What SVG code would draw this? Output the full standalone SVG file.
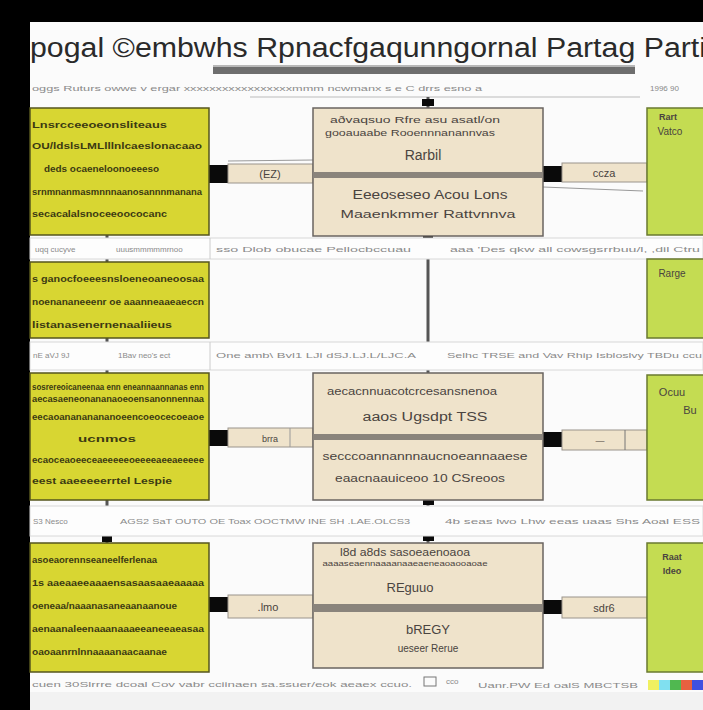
<svg xmlns="http://www.w3.org/2000/svg" width="703" height="710" viewBox="0 0 703 710">
<style>
.yel{fill:#d8d632;stroke:#55551e;stroke-width:1.5}
.grn{fill:#c4dc52;stroke:#6a7a30;stroke-width:1.5}
.bei{fill:#efe3cb;stroke:#6a6460;stroke-width:1.5}
.div{fill:#8a847c}
.lab{fill:#efe3cb;stroke:#9a948c;stroke-width:1}
.blk{fill:#0a0a0a}
.vline{stroke:#555;stroke-width:3}
.yt{font-family:"Liberation Sans",Arial,sans-serif;font-size:9px;font-weight:bold;fill:#3c3a12}
.bt{font-family:"Liberation Sans",Arial,sans-serif;fill:#4a4440;text-anchor:middle}
.st{font-family:"Liberation Sans",Arial,sans-serif;font-size:8px;fill:#8a8a8a}
.strip{fill:#fdfdfd;stroke:#d8d8d8;stroke-width:1}
</style>
<rect x="0" y="0" width="703" height="710" fill="#000"/>
<rect x="30" y="22" width="673" height="688" fill="#fbfbfb"/>
<rect x="30" y="692" width="673" height="18" fill="#f2f2f2"/>
<text x="30" y="57" font-family="Liberation Sans,Arial,sans-serif" font-size="27" fill="#2a2a2a" textLength="676" lengthAdjust="spacingAndGlyphs">pogal ©embwhs Rpnacfgaqunngornal Partag Parti</text>
<rect x="213" y="67" width="422" height="7" fill="#6e6e6e"/>
<rect x="213" y="65" width="422" height="2" fill="#b8b8b8"/>
<text x="32" y="91" class="st" textLength="450" lengthAdjust="spacingAndGlyphs">oggs  Ruturs  owwe v ergar xxxxxxxxxxxxxxxxxmmm ncwmanx s e C drrs  esno   a</text>
<text x="650" y="91" class="st">1996  90</text>
<line x1="250" y1="97" x2="640" y2="97" stroke="#bbb" stroke-width="1"/>

<g id="connectors">
  <line x1="428" y1="97" x2="428" y2="108" class="vline"/>
  <rect x="422" y="99" width="12" height="7" class="blk"/>
  <line x1="428" y1="236" x2="428" y2="373" class="vline"/>
  <rect x="423" y="236" width="10" height="7" class="blk"/>
  <rect x="424" y="356" width="10" height="14" class="blk"/>
  <line x1="428" y1="500" x2="428" y2="543" class="vline"/>
  <rect x="423" y="498" width="11" height="7" class="blk"/>
  <rect x="423" y="533" width="11" height="8" class="blk"/>
  <line x1="107" y1="235" x2="107" y2="262" class="vline"/>
  <line x1="107" y1="338" x2="107" y2="373" class="vline"/>
  <rect x="102" y="360" width="10" height="10" class="blk"/>
  <line x1="107" y1="500" x2="107" y2="543" class="vline"/>
  <rect x="102" y="532" width="10" height="10" class="blk"/>
  <!-- row 1 -->
  <rect x="209" y="165" width="19" height="18" class="blk"/>
  <rect x="228" y="164" width="85" height="19" class="lab"/>
  <line x1="228" y1="161" x2="313" y2="160" stroke="#999"/>
  <text x="270" y="178" class="bt" font-size="11">(EZ)</text>
  <rect x="543" y="166" width="19" height="16" class="blk"/>
  <rect x="562" y="163" width="85" height="19" class="lab"/>
  <line x1="543" y1="187" x2="643" y2="191" stroke="#999"/>
  <text x="604" y="177" class="bt" font-size="11">ccza</text>
  <!-- row 3 -->
  <rect x="209" y="430" width="19" height="16" class="blk"/>
  <rect x="228" y="428" width="85" height="19" class="lab"/>
  <line x1="290" y1="428" x2="290" y2="447" stroke="#999"/>
  <text x="270" y="442" class="bt" font-size="9">brra</text>
  <rect x="543" y="432" width="19" height="15" class="blk"/>
  <rect x="562" y="430" width="85" height="20" class="lab"/>
  <line x1="625" y1="430" x2="625" y2="450" stroke="#777"/>
  <text x="600" y="444" class="bt" font-size="9">—</text>
  <!-- row 4 -->
  <rect x="209" y="597" width="19" height="15" class="blk"/>
  <rect x="228" y="595" width="85" height="23" class="lab"/>
  <text x="268" y="611" class="bt" font-size="11">.lmo</text>
  <rect x="543" y="600" width="19" height="14" class="blk"/>
  <rect x="562" y="597" width="85" height="21" class="lab"/>
  <text x="604" y="612" class="bt" font-size="11">sdr6</text>
</g>

<g id="strips">
  <rect x="30" y="238" width="673" height="21" class="strip"/>
  <text x="35" y="252" class="st">uqq  cucyve</text>
  <line x1="210" y1="238" x2="210" y2="259" stroke="#ccc"/>
  <text x="116" y="252" class="st">uuusmmmmmrnoo</text>
  <text x="216" y="252" class="st" textLength="195" lengthAdjust="spacingAndGlyphs">sso Dlob obucae Pellocbccuau</text>
  <text x="450" y="252" class="st" textLength="250" lengthAdjust="spacingAndGlyphs">aaa  'Des  qkw  all  cowsgsrrbuu/l,  ,dil  Ctru</text>
  <rect x="30" y="342" width="673" height="28" class="strip"/>
  <text x="33" y="358" class="st">nE  aVJ  9J</text>
  <line x1="210" y1="342" x2="210" y2="370" stroke="#ccc"/>
  <text x="118" y="358" class="st">1Bav neo's ect</text>
  <text x="216" y="358" class="st" textLength="200" lengthAdjust="spacingAndGlyphs">One  amb\ Bvl1 LJl  dSJ.LJ.L/LJC.A</text>
  <text x="447" y="358" class="st" textLength="255" lengthAdjust="spacingAndGlyphs">Selhc TRSE and Vav Rhip Isbloslvy  TBDu ccu</text>
  <rect x="30" y="506" width="673" height="30" class="strip"/>
  <text x="33" y="524" class="st">S3  Nesco</text>
  <text x="120" y="524" class="st" textLength="290" lengthAdjust="spacingAndGlyphs">AGS2 SaT OUTO OE Toax OOCTMW INE SH .LAE.OLCS3</text>
  <text x="445" y="524" class="st" textLength="255" lengthAdjust="spacingAndGlyphs">4b  seas  lwo  Lhw  eeas  uaas  Shs  Aoal  ESS</text>
  <text x="32" y="687" class="st" textLength="380" lengthAdjust="spacingAndGlyphs">cuen  30Slrrre  dcoal  Cov  vabr  cciinaen  sa.ssuer/eok  aeaex  ccuo.</text>
  <rect x="424" y="677" width="12" height="9" fill="none" stroke="#777"/>
  <text x="446" y="684" class="st">cco</text>
  <text x="478" y="688" class="st" textLength="160" lengthAdjust="spacingAndGlyphs">Uanr.PW  Ed  oalS  MBCTSB</text>
  <rect x="648" y="680" width="11" height="10" fill="#f0f060"/>
  <rect x="659" y="680" width="11" height="10" fill="#80e0f0"/>
  <rect x="670" y="680" width="11" height="10" fill="#50b850"/>
  <rect x="681" y="680" width="11" height="10" fill="#e86040"/>
  <rect x="692" y="680" width="11" height="10" fill="#4050e0"/>
</g>

<g id="node-y1">
  <rect x="30" y="108" width="179" height="127" class="yel"/>
  <text x="32" y="128" class="yt" textLength="135" lengthAdjust="spacingAndGlyphs">Lnsrcceeoeonsliteaus</text>
  <text x="32" y="149" class="yt" textLength="170" lengthAdjust="spacingAndGlyphs">OU/ldslsLMLlllnlcaeslonacaao</text>
  <text x="44" y="172" class="yt" textLength="115" lengthAdjust="spacingAndGlyphs">deds ocaeneloonoeeeso</text>
  <text x="32" y="195" class="yt" textLength="170" lengthAdjust="spacingAndGlyphs">srnmnanmasmnnnaanosannnmanana</text>
  <text x="32" y="217" class="yt" textLength="135" lengthAdjust="spacingAndGlyphs">secacalalsnoceeoococanc</text>
</g>
<g id="node-y2">
  <rect x="30" y="262" width="179" height="76" class="yel"/>
  <text x="32" y="282" class="yt" textLength="172" lengthAdjust="spacingAndGlyphs">s ganocfoeeesnsloeneoaneoosaa</text>
  <text x="32" y="305" class="yt" textLength="172" lengthAdjust="spacingAndGlyphs">noenananeeenr oe aaanneaaeaeccn</text>
  <text x="32" y="328" class="yt" textLength="140" lengthAdjust="spacingAndGlyphs">listanasenernenaaliieus</text>
</g>
<g id="node-y3">
  <rect x="30" y="373" width="179" height="127" class="yel"/>
  <text x="32" y="390" class="yt" font-size="6" textLength="172" lengthAdjust="spacingAndGlyphs">sosrereoicaneenaa enn eneannaannanas enn</text>
  <text x="32" y="402" class="yt" textLength="172" lengthAdjust="spacingAndGlyphs">aecasaeneonananaoeoensanonnennaa</text>
  <text x="32" y="420" class="yt" textLength="172" lengthAdjust="spacingAndGlyphs">eecaoanananananoeencoeocecoeaoe</text>
  <text x="78" y="442" class="yt" textLength="58" lengthAdjust="spacingAndGlyphs">ucnmos</text>
  <text x="32" y="463" class="yt" textLength="172" lengthAdjust="spacingAndGlyphs">ecaoceaoeeceaeeeeeoeeeeaeeaeeeee</text>
  <text x="32" y="484" class="yt" textLength="140" lengthAdjust="spacingAndGlyphs">eest aaeeeeerrtel Lespie</text>
</g>
<g id="node-y4">
  <rect x="30" y="543" width="179" height="129" class="yel"/>
  <text x="32" y="563" class="yt" textLength="125" lengthAdjust="spacingAndGlyphs">asoeaorennseaneelferlenaa</text>
  <text x="32" y="586" class="yt" textLength="172" lengthAdjust="spacingAndGlyphs">1s aaeaaeeaaaensasaasaaeaaaaa</text>
  <text x="32" y="609" class="yt" textLength="145" lengthAdjust="spacingAndGlyphs">oeneaa/naaanasaneaanaanoue</text>
  <text x="32" y="632" class="yt" textLength="172" lengthAdjust="spacingAndGlyphs">aenaanaleenaaanaaaeeaneeaeasaa</text>
  <text x="32" y="655" class="yt" textLength="135" lengthAdjust="spacingAndGlyphs">oaoaanrnlnnaaaanaacaanae</text>
</g>

<g id="node-c1">
  <rect x="313" y="108" width="230" height="128" class="bei"/>
  <rect x="313" y="172" width="230" height="6" class="div"/>
  <text x="415" y="123" class="bt" font-size="9" textLength="170" lengthAdjust="spacingAndGlyphs">aðvaqsuo  Rfre asu asatl/on</text>
  <text x="410" y="136" class="bt" font-size="9" textLength="170" lengthAdjust="spacingAndGlyphs">gooauaabe  Rooennnanannvas</text>
  <text x="423" y="160" class="bt" font-size="14">Rarbil</text>
  <text x="430" y="199" class="bt" font-size="12" textLength="155" lengthAdjust="spacingAndGlyphs">Eeeoseseo Acou Lons</text>
  <text x="428" y="218" class="bt" font-size="11" textLength="175" lengthAdjust="spacingAndGlyphs">Maaenkmmer Rattvnnva</text>
</g>
<g id="node-c3">
  <rect x="313" y="373" width="230" height="127" class="bei"/>
  <rect x="313" y="434" width="230" height="6" class="div"/>
  <text x="412" y="395" class="bt" font-size="10" textLength="170" lengthAdjust="spacingAndGlyphs">aecacnnuacotcrcesansnenoa</text>
  <text x="425" y="421" class="bt" font-size="12" textLength="125" lengthAdjust="spacingAndGlyphs">aaos Ugsdpt TSS</text>
  <text x="425" y="460" class="bt" font-size="10" textLength="205" lengthAdjust="spacingAndGlyphs">secccoannannnaucnoeannaaese</text>
  <text x="420" y="482" class="bt" font-size="11" textLength="170" lengthAdjust="spacingAndGlyphs">eaacnaauiceoo 10 CSreoos</text>
</g>
<g id="node-c4">
  <rect x="313" y="543" width="230" height="125" class="bei"/>
  <rect x="313" y="604" width="230" height="8" class="div"/>
  <text x="405" y="556" class="bt" font-size="10" textLength="130" lengthAdjust="spacingAndGlyphs">l8d a8ds  sasoeaenoaoa</text>
  <text x="405" y="566" class="bt" font-size="8" textLength="165" lengthAdjust="spacingAndGlyphs">aaaaseaennaaaanaaeaeneaoaooaoae</text>
  <text x="410" y="592" class="bt" font-size="13">REguuo</text>
  <text x="428" y="634" class="bt" font-size="13">bREGY</text>
  <text x="428" y="652" class="bt" font-size="10">ueseer Rerue</text>
</g>

<g id="node-g1">
  <rect x="647" y="108" width="60" height="127" class="grn"/>
  <text x="668" y="120" class="bt" font-size="9" font-weight="bold">Rart</text>
  <text x="670" y="135" class="bt" font-size="10">Vatco</text>
</g>
<g id="node-g2">
  <rect x="647" y="259" width="60" height="79" class="grn"/>
  <text x="672" y="277" class="bt" font-size="10">Rarge</text>
</g>
<g id="node-g3">
  <rect x="647" y="375" width="60" height="125" class="grn"/>
  <text x="672" y="396" class="bt" font-size="11">Ocuu</text>
  <text x="690" y="414" class="bt" font-size="11">Bu</text>
</g>
<g id="node-g4">
  <rect x="647" y="543" width="60" height="129" class="grn"/>
  <text x="672" y="560" class="bt" font-size="9" font-weight="bold">Raat</text>
  <text x="672" y="574" class="bt" font-size="9" font-weight="bold">Ideo</text>
</g>
</svg>
